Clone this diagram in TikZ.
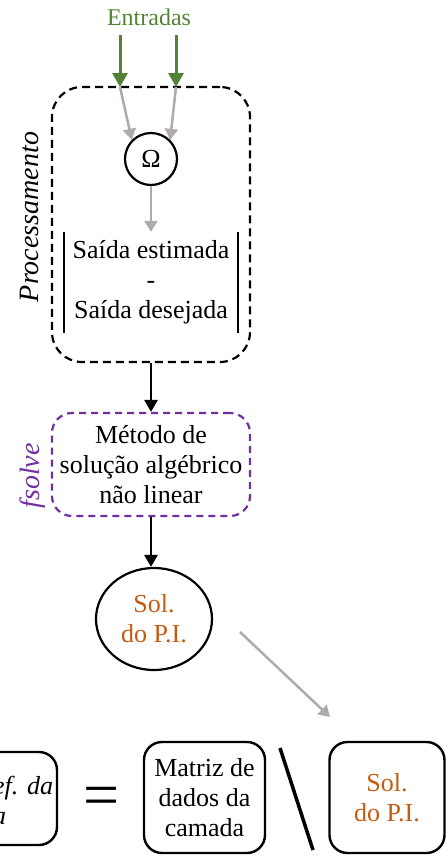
\documentclass[tikz,border=0pt]{standalone}
\usepackage{fontspec}
\setmainfont{Liberation Serif}
\usetikzlibrary{positioning}
\usetikzlibrary{shapes}
\usetikzlibrary{arrows.meta}
\definecolor{inGreen}{HTML}{548235}
\definecolor{flowGray}{HTML}{AFABAB}
\definecolor{solOrange}{HTML}{C55A11}
\definecolor{fsPurple}{HTML}{7030A0}
\newcommand{\mainsize}{\fontsize{26}{30}\selectfont}
\tikzset{procbox/.style={draw,
                        dash pattern=on 8pt off 5pt,
                        line width=2.2pt,
                        rounded corners=30pt,
                        minimum width=198pt,
                        minimum height=275pt
                        },
        fsolvebox/.style={draw=fsPurple,
                        dash pattern=on 7pt off 5pt,
                        line width=2.2pt,
                        rounded corners=20pt,
                        minimum width=198pt,
                        minimum height=103pt,
                        inner sep=0pt,
                        align=center,
                        font=\mainsize
        },
        eqbox/.style={draw,
                        line width=2.4pt,
                        rounded corners=18pt,
                        inner sep=0pt,
                        align=center,
                        font=\mainsize
        },
        sidelabel/.style={rotate=90, font=\fontsize{28}{32}\selectfont\itshape},
        inarrow/.style={-{Triangle[length=14pt,width=15pt]}, inGreen, line width=3pt},
        grayarrow/.style={-{Triangle[length=11pt,width=13pt]}, flowGray, line width=2.5pt},
        flowarrow/.style={-{Triangle[length=12pt,width=13pt]}, black, line width=2.8pt},
}

\begin{document}
\begin{tikzpicture}
    [x=1pt,y=1pt]
    \useasboundingbox (0,0) rectangle (446,-855);
    \clip (0,0) rectangle (446,-855);

    % PROCESSING
    \node[inGreen, font=\fontsize{24}{28}\selectfont] (entradas) at (149,-17) {Entradas};
    \node[procbox] (proc) at (151,-224.5) {};
    \node[sidelabel] (procLabel) at (29,-217) {Processamento};

    \coordinate (inA) at (120,-35);
    \coordinate (inB) at (176,-35);
    \coordinate (inAend) at (120,-87);
    \coordinate (inBend) at (176,-87);

    \node[circle, draw, line width=2.2pt, minimum size=52pt, inner sep=0pt,
          font=\fontsize{26}{28}\selectfont] (omega) at (151,-159) {Ω};

    \node[minimum width=174pt, minimum height=101pt, inner sep=0pt,
          align=center, font=\mainsize] (erro) at (151,-282.5) {Saída estimada\\-\\Saída desejada};
    \draw[line width=2pt] (erro.north west) -- (erro.south west);
    \draw[line width=2pt] (erro.north east) -- (erro.south east);

    \draw[inarrow] (inA) -- (inAend);
    \draw[inarrow] (inB) -- (inBend);
    \draw[grayarrow] (inAend) -- (omega.135);
    \draw[grayarrow] (inBend) -- (omega.45);
    \draw[grayarrow] (omega) -- (erro);

    % FSOLVE
    \node[fsolvebox] (metodo) at (151,-464.5) {Método de\\solução algébrico\\não linear};
    \node[sidelabel, fsPurple] (fsolveLabel) at (33,-476) {fsolve};
    \draw[flowarrow] (proc) -- (metodo);

    % SOLUTION
    \node[ellipse, draw, line width=2.2pt, minimum width=116pt, minimum height=102pt,
          inner sep=0pt, align=center, text=solOrange, font=\mainsize] (sol) at (154,-619) {Sol.\\do P.I.};
    \draw[flowarrow] (metodo.south) -- (metodo.south |- sol.north);

    \coordinate (solOut) at (240,-632);
    \coordinate (solIn) at (330,-717);
    \draw[grayarrow] (solOut) -- (solIn);

    % EQUATION
    \node[eqbox, minimum width=117pt, minimum height=93pt] (coef) at (-1.5,-798.5) {};
    \node[anchor=west, align=left, inner sep=0pt, font=\mainsize\itshape] (coefText) at (-7,-800) {ef. da\\a};
    \node[font=\fontsize{64}{64}\selectfont, inner sep=0pt] (equals) at (102,-802) {=};
    \node[eqbox, minimum width=121pt, minimum height=111pt] (matriz) at (204.5,-797.5) {Matriz de\\dados da\\camada};
    \coordinate (slashTop) at (280,-748);
    \coordinate (slashBot) at (313,-850);
    \draw[line width=3.5pt] (slashTop) -- (slashBot);
    \node[eqbox, minimum width=115pt, minimum height=111pt, text=solOrange] (solBox) at (387,-797.5) {Sol.\\do P.I.};

\end{tikzpicture}
\end{document}
